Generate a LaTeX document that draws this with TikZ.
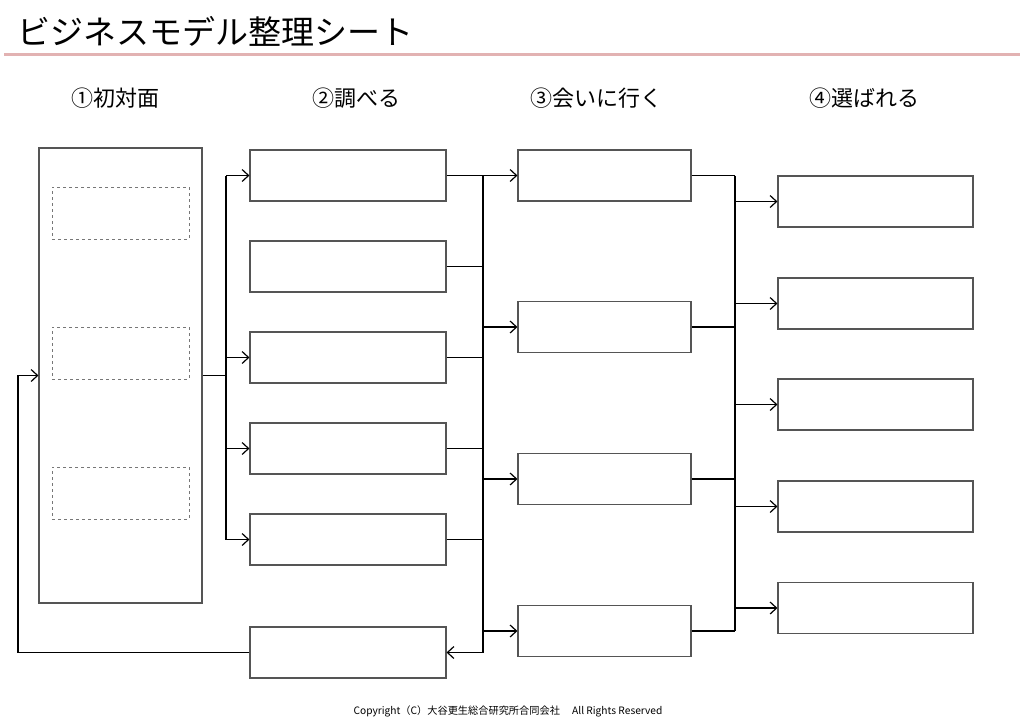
\documentclass[tikz,border=0pt]{standalone}
\usepackage{fontspec}
\setmainfont{Noto Sans CJK JP}
\usetikzlibrary{arrows.meta}
\definecolor{boxgray}{RGB}{85,85,85}
\definecolor{pinkline}{RGB}{226,178,178}
\tikzset{
  box/.style={draw=boxgray,line width=1.1pt,inner sep=0pt,minimum height=51pt},
  dbox/.style={draw=boxgray!80,dashed,line width=0.8pt,inner sep=0pt,minimum width=137pt,minimum height=52pt},
  conn/.style={draw=black,line width=1.3pt},
  arr/.style={conn,-{Straight Barb[length=6.5pt,width=12pt,line width=1.2pt]}},
  hdr/.style={font=\fontsize{22}{24}\selectfont,inner sep=0pt}
}
\begin{document}
\begin{tikzpicture}[x=1pt,y=-1pt]
\useasboundingbox (0,0) rectangle (1024,724);
% title
\node[anchor=west,inner sep=0pt,font=\fontsize{33}{36}\selectfont] (title) at (17,31) {ビジネスモデル整理シート};
\coordinate (tl) at (4,54);
\coordinate (tr) at (1020,54);
\draw[pinkline,line width=3pt] (tl) -- (tr);
% headers
\node[hdr] (h1) at (115,98) {①初対面};
\node[hdr] (h2) at (356,98) {②調べる};
\node[hdr] (h3) at (596,98) {③会いに行く};
\node[hdr] (h4) at (864,98) {④選ばれる};
% column 1
\node[box,minimum width=163pt,minimum height=455pt] (big) at (120.5,375.5) {};
\node[dbox] (d1) at (120.5,213) {};
\node[dbox] (d2) at (120.5,353) {};
\node[dbox] (d3) at (120.5,493) {};
% column 2
\foreach \n/\y in {1/175.5,2/266.5,3/357.5,4/448.5,5/539.5,6/652.5}
  \node[box,minimum width=196pt] (c2\n) at (348,\y) {};
% column 3
\foreach \n/\y in {1/175.5,2/327,3/479,4/631}
  \node[box,minimum width=173pt] (c3\n) at (604.5,\y) {};
% column 4
\foreach \n/\y in {1/201.5,2/303.5,3/404.5,4/506.5,5/608}
  \node[box,minimum width=195pt] (c4\n) at (875.5,\y) {};
% bus coordinates
\coordinate (B1) at (226,0);
\coordinate (B2) at (483,0);
\coordinate (B3) at (735,0);
\coordinate (F) at (18,0);
% bus 1
\draw[conn] (big.east) -- (B1 |- big.east);
\draw[conn] (B1 |- c21.west) -- (B1 |- c25.west);
\foreach \n in {1,3,4,5}
  \draw[arr] (B1 |- c2\n.west) -- (c2\n.west);
% bus 2
\foreach \n in {1,2,3,4,5}
  \draw[conn] (c2\n.east) -- (B2 |- c2\n.east);
\draw[conn] (B2 |- c21.east) -- (B2 |- c26.east);
\foreach \n in {1,2,3,4}
  \draw[arr] (B2 |- c3\n.west) -- (c3\n.west);
\draw[arr] (B2 |- c26.east) -- (c26.east);
% bus 3
\foreach \n in {1,2,3,4}
  \draw[conn] (c3\n.east) -- (B3 |- c3\n.east);
\draw[conn] (B3 |- c31.east) -- (B3 |- c34.east);
\foreach \n in {1,2,3,4,5}
  \draw[arr] (B3 |- c4\n.west) -- (c4\n.west);
% feedback
\draw[arr] (c26.west) -- (F |- c26.west) -- (F |- big.west) -- (big.west);
% footer
\node[inner sep=0pt,font=\fontsize{10.2}{12}\selectfont] (foot) at (508,711) {Copyright（C）大谷更生総合研究所合同会社\hspace{1.2em}All Rights Reserved};
\end{tikzpicture}
\end{document}
